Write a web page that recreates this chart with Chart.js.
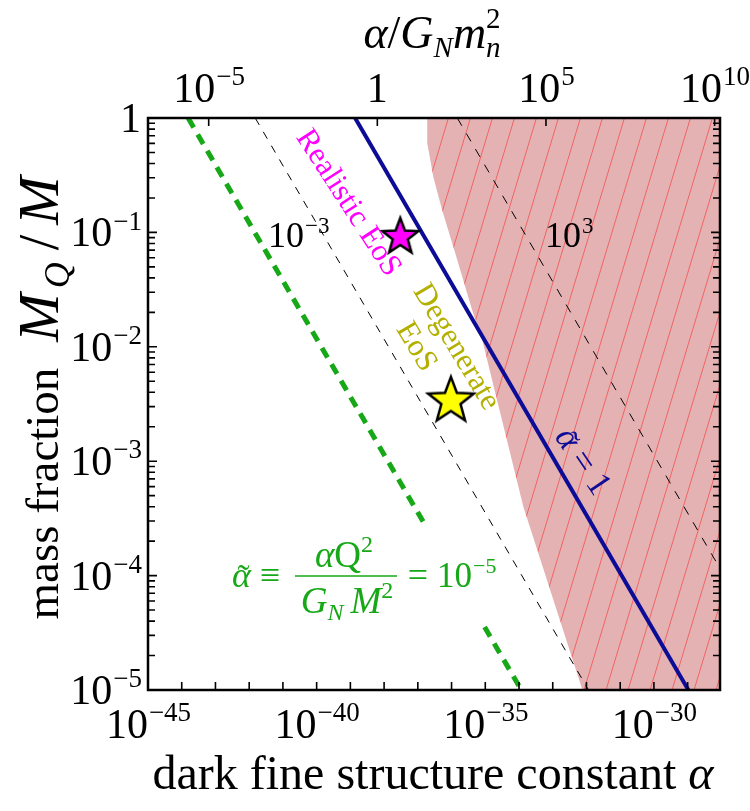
<!DOCTYPE html>
<html>
<head>
<meta charset="utf-8">
<script src="https://cdn.jsdelivr.net/npm/chart.js@4.4.0/dist/chart.umd.min.js"></script>
<style>
  html, body { margin: 0; padding: 0; background: #fff; }
</style>
</head>
<body>
<canvas id="chart" width="750" height="811"></canvas>
<script>
// ====== Data ======
const xMin = 1e-45, xMax = 9.1e-29;   // dark fine structure constant alpha
const yMin = 1e-5, yMax = 1;          // mass fraction M_Q / M
const gnMn2 = 6.3e-39;                // G_N m_n^2, ties the top axis to the bottom one

const bottomLabelExps = [-45, -40, -35, -30];
const topLabelExps = [-5, 0, 5, 10];
const yLabelExps = [0, -1, -2, -3, -4, -5];

// alpha~ = 1 (solid blue)
const blueAlpha = [1.38e-39, 1.05e-29];
const blueFrac = [1, 1e-5];
// alpha~ = 1e-3 and 1e3 (thin black dashed)
const lowAlpha = [1.51e-42, 1.15e-32];
const lowFrac = [1, 1e-5];
const highAlpha = [1.48e-36, 1e-28];
const highFrac = [1, 1.1e-4];
// alpha~ = 1e-5 (green dashed, broken by its label)
const greenTopAlpha = [1.55e-44, 1.66e-37];
const greenTopFrac = [1, 2.75e-4];
const greenLowAlpha = [9.55e-36, 1.17e-34];
const greenLowFrac = [3.55e-5, 1e-5];
// excluded region (hatched)
const exclAlpha = [1.9e-37, 1.9e-37, 2.34e-37, 2.88e-37, 5.25e-37, 1.48e-36, 4.07e-36, 8.1e-36, 1.35e-34, 7.6e-33, 1e-28, 1e-28];
const exclFrac = [1, 0.604, 0.43, 0.305, 0.157, 0.0574, 0.021, 0.0115, 3.98e-4, 1e-5, 1e-5, 1];
// stars: realistic EoS, degenerate EoS
const starAlpha = [3.02e-38, 9.55e-37];
const starFrac = [0.0949, 3.53e-3];

const SERIF = '"Liberation Serif", "Times New Roman", serif';
const BLUE = '#0c0c96';
const GREEN = '#17a817';

const pts = (xs, ys) => xs.map((x, i) => ({ x, y: ys[i] }));

// ====== Helpers ======
const canvas = document.getElementById("chart");
const mainCtx = canvas.getContext("2d");

const makeHatch = () => {
  const w = 22, h = 73;
  const c = document.createElement("canvas");
  c.width = w; c.height = h;
  const g = c.getContext("2d");
  g.fillStyle = "#e5b2b4";
  g.fillRect(0, 0, w, h);
  g.strokeStyle = "#f06464";
  g.lineWidth = 1;
  for (const o of [-w, 0, w]) {
    g.beginPath();
    g.moveTo(o, h);
    g.lineTo(o + w, 0);
    g.stroke();
  }
  return mainCtx.createPattern(c, "repeat");
};

const makeStar = (r, fill) => {
  const s = Math.ceil(2 * r + 8);
  const c = document.createElement("canvas");
  c.width = s; c.height = s;
  const g = c.getContext("2d");
  g.translate(s / 2, s / 2 + r * 0.1);
  g.beginPath();
  for (let i = 0; i < 10; i++) {
    const rad = i % 2 ? r * 0.42 : r;
    const a = -Math.PI / 2 + (i * Math.PI) / 5;
    g.lineTo(rad * Math.cos(a), rad * Math.sin(a));
  }
  g.closePath();
  g.fillStyle = fill;
  g.fill();
  g.lineWidth = 2.5;
  g.strokeStyle = "#000";
  g.stroke();
  return c;
};

// draw a row of text runs with optional rotation
// run: t, font, dy, gap (after), pre (shift), stay (no advance), over (centred on previous run)
function runs(ctx, list, x, y, opt = {}) {
  const { align = "center", angle = 0, color = "#000", base = "alphabetic" } = opt;
  ctx.save();
  ctx.translate(x, y);
  ctx.rotate(angle);
  ctx.textBaseline = base;
  ctx.textAlign = "left";
  let w = 0;
  list.forEach((r) => {
    ctx.font = r.font;
    r.w = ctx.measureText(r.t).width;
    if (!r.stay && !r.over) w += r.w + (r.gap || 0);
  });
  let cx = align === "center" ? -w / 2 : align === "right" ? -w : 0;
  let lastX = cx, lastW = 0;
  list.forEach((r) => {
    ctx.font = r.font;
    ctx.fillStyle = r.color || color;
    if (r.over) {
      ctx.fillText(r.t, lastX + lastW / 2 - r.w / 2 + (r.pre || 0), r.dy || 0);
      return;
    }
    ctx.fillText(r.t, cx + (r.pre || 0), r.dy || 0);
    lastX = cx; lastW = r.w;
    if (!r.stay) cx += r.w + (r.gap || 0);
  });
  ctx.restore();
}

const f = (size, style = "") => `${style} ${size}px ${SERIF}`.trim();

// italic alpha with a tilde on top
const alphaTilde = (size) => [
  { t: "\u03b1", font: f(size, "italic") },
  { t: "\u02dc", font: f(size), over: true, pre: size * 0.06, dy: size * 0.08 },
];

function powRuns(e, size) {
  if (e === 0) return [{ t: "1", font: f(size) }];
  return [
    { t: "10", font: f(size) },
    { t: String(e).replace("-", "\u2212"), font: f(Math.round(size * 0.64)), dy: -size * 0.4, pre: 1 },
  ];
}

// ====== Axes, labels and annotations ======
const decor = {
  id: "decor",
  afterDraw(chart) {
    const ctx = chart.ctx;
    const { left, right, top, bottom } = chart.chartArea;
    const sx = chart.scales.x, sx2 = chart.scales.x2, sy = chart.scales.y;
    ctx.save();
    ctx.strokeStyle = "#000";
    ctx.lineWidth = 1.6;
    ctx.beginPath();
    // bottom: a tick every decade
    for (let e = -45; e <= -29; e++) {
      const px = sx.getPixelForValue(10 ** e);
      ctx.moveTo(px, bottom); ctx.lineTo(px, bottom - 8);
    }
    // top: labelled ticks only
    topLabelExps.forEach((e) => {
      const px = sx2.getPixelForValue(10 ** e);
      ctx.moveTo(px, top); ctx.lineTo(px, top + 8);
    });
    // left and right: decades plus 2..9
    for (let e = -5; e <= 0; e++) {
      for (let m = 1; m <= 9; m++) {
        const v = m * 10 ** e;
        if (v > yMax * 1.0001) continue;
        const py = sy.getPixelForValue(v);
        const len = m === 1 ? 9 : 7;
        ctx.moveTo(left, py); ctx.lineTo(left + len, py);
        ctx.moveTo(right, py); ctx.lineTo(right - len, py);
      }
    }
    ctx.stroke();
    ctx.lineWidth = 2.5;
    ctx.strokeRect(left, top, right - left, bottom - top);
    ctx.restore();

    // tick labels
    bottomLabelExps.forEach((e) => runs(ctx, powRuns(e, 42), sx.getPixelForValue(10 ** e), 738));
    topLabelExps.forEach((e) => runs(ctx, powRuns(e, 42), sx2.getPixelForValue(10 ** e), 102));
    yLabelExps.forEach((e) => runs(ctx, powRuns(e, 42), 141, sy.getPixelForValue(10 ** e) + 14, { align: "right" }));

    // axis titles
    runs(ctx, [
      { t: "dark fine structure constant ", font: f(48) },
      { t: "\u03b1", font: f(48, "italic") },
    ], 433, 789);
    runs(ctx, [
      { t: "\u03b1", font: f(46, "italic") },
      { t: "/", font: f(46) },
      { t: "G", font: f(46, "italic") },
      { t: "N", font: f(29, "italic"), dy: 9 },
      { t: "m", font: f(46, "italic") },
      { t: "2", font: f(29), dy: -20, stay: true },
      { t: "n", font: f(29, "italic"), dy: 9 },
    ], 432, 48);
    runs(ctx, [
      { t: "mass fraction", font: f(47), gap: 26 },
      { t: "M", font: f(58, "italic"), gap: 5 },
      { t: "Q", font: f(36, "italic"), dy: 11, gap: 12 },
      { t: "/", font: f(56), gap: 10 },
      { t: "M", font: f(58, "italic") },
    ], 58, 398, { angle: -Math.PI / 2 });

    // in-plot annotations
    runs(ctx, powRuns(-3, 36), 268, 247, { align: "left" });
    runs(ctx, powRuns(3, 36), 545, 247, { align: "left" });
    runs(ctx, [{ t: "Realistic EoS", font: f(31) }], 348, 203, { angle: (57 * Math.PI) / 180, color: "#ff00ff", base: "middle" });
    runs(ctx, [{ t: "Degenerate", font: f(31) }], 456, 347, { angle: (59 * Math.PI) / 180, color: "#b4b000", base: "middle" });
    runs(ctx, [{ t: "EoS", font: f(31) }], 416, 347, { angle: (59 * Math.PI) / 180, color: "#b4b000", base: "middle" });
    runs(ctx, [
      ...alphaTilde(35),
      { t: " = 1", font: f(35) },
    ], 582, 462, { angle: (56 * Math.PI) / 180, color: BLUE, base: "middle" });

    // green definition label
    runs(ctx, alphaTilde(36), 232, 587, { align: "left", color: GREEN });
    runs(ctx, [{ t: "\u2261", font: f(36) }], 270, 587, { color: GREEN });
    runs(ctx, [
      { t: "\u03b1", font: f(37, "italic") },
      { t: "Q", font: f(37) },
      { t: "2", font: f(24), dy: -15 },
    ], 344, 567, { color: GREEN });
    runs(ctx, [
      { t: "G", font: f(37, "italic") },
      { t: "N", font: f(24, "italic"), dy: 7, gap: 7 },
      { t: "M", font: f(37, "italic") },
      { t: "2", font: f(24), dy: -15 },
    ], 347, 613, { color: GREEN });
    ctx.save();
    ctx.strokeStyle = GREEN;
    ctx.lineWidth = 1.6;
    ctx.beginPath();
    ctx.moveTo(295, 576); ctx.lineTo(397, 576);
    ctx.stroke();
    ctx.restore();
    runs(ctx, [{ t: "=", font: f(36) }], 418, 587, { color: GREEN });
    runs(ctx, powRuns(-5, 35), 437, 587, { align: "left", color: GREEN });
  },
};

// ====== Chart ======
const lineSet = (data, color, width, dash, order) => ({
  data,
  showLine: true,
  borderColor: color,
  borderWidth: width,
  borderDash: dash,
  pointRadius: 0,
  fill: false,
  order,
});

new Chart(mainCtx, {
  type: "scatter",
  data: {
    datasets: [
      {
        data: pts(exclAlpha, exclFrac),
        showLine: true,
        borderWidth: 0,
        pointRadius: 0,
        backgroundColor: makeHatch(),
        fill: "shape",
        order: 10,
      },
      lineSet(pts(lowAlpha, lowFrac), "#000", 1, [8, 8], 5),
      lineSet(pts(highAlpha, highFrac), "#000", 1, [9, 9], 5),
      lineSet(pts(greenTopAlpha, greenTopFrac), GREEN, 5, [11, 8], 4),
      lineSet(pts(greenLowAlpha, greenLowFrac), GREEN, 5, [11, 8], 4),
      lineSet(pts(blueAlpha, blueFrac), BLUE, 4, [], 3),
      {
        data: pts(starAlpha, starFrac),
        pointStyle: [makeStar(19, "#ff00ff"), makeStar(24, "#ffff00")],
        pointRadius: 20,
        order: 0,
      },
    ],
  },
  options: {
    responsive: false,
    animation: false,
    events: [],
    layout: { padding: 0 },
    plugins: { legend: { display: false }, tooltip: { enabled: false } },
    scales: {
      x: {
        type: "logarithmic", position: "bottom", min: xMin, max: xMax,
        grid: { display: false }, border: { display: false }, ticks: { display: false },
        afterFit: (s) => { s.height = 121; },
      },
      x2: {
        type: "logarithmic", position: "top", min: xMin / gnMn2, max: xMax / gnMn2,
        grid: { display: false }, border: { display: false }, ticks: { display: false },
        afterFit: (s) => { s.height = 118; },
      },
      y: {
        type: "logarithmic", position: "left", min: yMin, max: yMax,
        grid: { display: false }, border: { display: false }, ticks: { display: false },
        afterFit: (s) => { s.width = 148; },
      },
      y2: {
        type: "logarithmic", position: "right", min: yMin, max: yMax,
        grid: { display: false }, border: { display: false }, ticks: { display: false },
        afterFit: (s) => { s.width = 30; },
      },
    },
  },
  plugins: [decor],
});
</script>
</body>
</html>
